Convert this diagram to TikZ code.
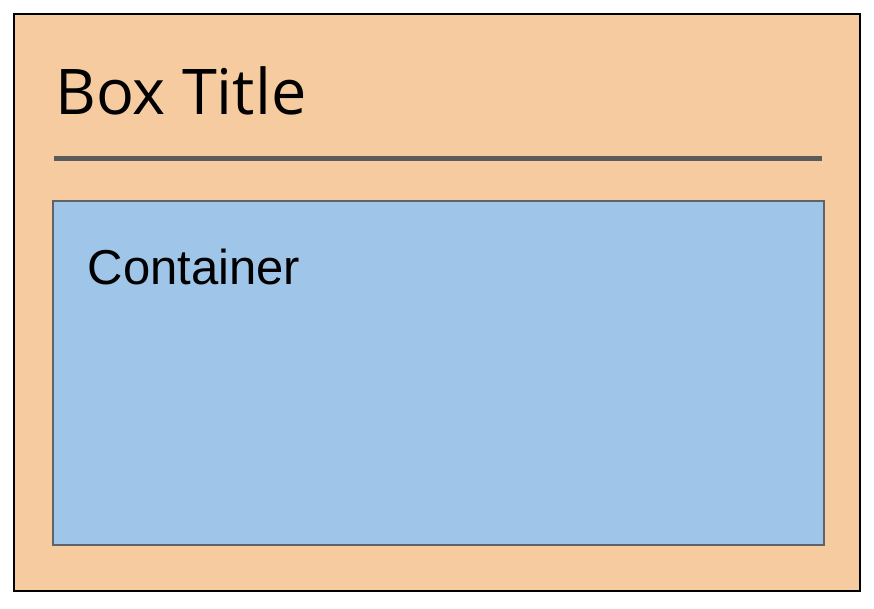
\documentclass[tikz,border=0pt]{standalone}
\usepackage{fontspec}
\newfontfamily\titlefont{Open Sans}
\newfontfamily\arialfont{Liberation Sans}
\definecolor{peach}{HTML}{F7CBA0}
\definecolor{lightblue}{HTML}{9FC5E8}
\definecolor{darkgray}{HTML}{5B5B5B}
\definecolor{bordergray}{HTML}{5F6368}
\begin{document}
\begin{tikzpicture}[x=1pt,y=-1pt,
  outerbox/.style={draw=black,line width=2pt,fill=peach},
  innerbox/.style={draw=bordergray,line width=2pt,fill=lightblue},
  sepline/.style={draw=darkgray,line width=4.5pt},
  txt/.style={anchor=base west,inner sep=0pt,text=black}]
\useasboundingbox (0,0) rectangle (874,608);
\draw[outerbox] (14,14) rectangle (860,591);
\node[txt,font=\titlefont\fontsize{63}{70}\selectfont] (title) at (55,114) {Box Title};
\coordinate (sepL) at (54,158.5);
\coordinate (sepR) at (822,158.5);
\draw[sepline] (sepL) -- (sepR);
\draw[innerbox] (52.5,200.5) rectangle (823.5,545);
\node[txt,font=\arialfont\fontsize{49}{55}\selectfont] (container) at (87.5,284) {Container};
\end{tikzpicture}
\end{document}
